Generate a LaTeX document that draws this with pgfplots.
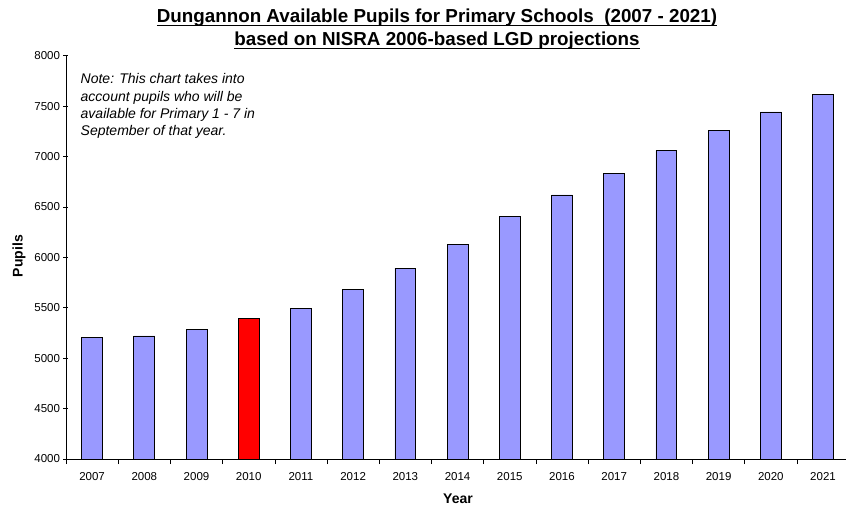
\documentclass[border=0pt]{standalone}
\usepackage{fontspec}
\setmainfont{Liberation Sans}
\usepackage{pgfplots}
\pgfplotsset{compat=1.18}
\definecolor{barblue}{HTML}{9999FF}
\definecolor{barred}{HTML}{FF0000}
% underline that sits just below the baseline, like the spreadsheet title
\newcommand\ul[1]{\setbox0\hbox{#1}\rlap{\rule[-3.6pt]{\wd0}{1.6pt}}\box0}

\begin{document}
\begin{tikzpicture}
\begin{axis}[
    name=ax,
    scale only axis,
    width=780pt,
    height=403.3pt,
    xmin=-0.5, xmax=14.44,
    ymin=4000, ymax=8000,
    ytick={4000,4500,...,8000},
    xtick={-0.5,0.5,...,13.5},
    xticklabels={2007,2008,2009,2010,2011,2012,2013,2014,2015,2016,2017,2018,2019,2020,2021},
    xticklabel style={xshift=26.1pt, yshift=-5pt},
    ticklabel style={font=\fontsize{11.5}{13}\selectfont},
    /pgf/number format/assume math mode=true,
    /pgf/number format/1000 sep={},
    tick align=outside,
    major tick length=5pt,
    tick style={black, line width=0.6pt},
    axis lines=left,
    axis line style={-, line width=0.8pt},
    ybar,
    bar width=0.4,
    clip=false,
]
\addplot[fill=barblue, draw=black, line width=0.8pt, bar shift=0pt]
    coordinates {
        (0,5203) (1,5220) (2,5287) (4,5491) (5,5683) (6,5892) (7,6130)
        (8,6404) (9,6619) (10,6830) (11,7062) (12,7261) (13,7442) (14,7618)
    };
\addplot[fill=barred, draw=black, line width=0.8pt, bar shift=0pt]
    coordinates {(3,5392)};
\end{axis}
% image origin (top left)
\coordinate (O) at ([xshift=-66pt, yshift=55.7pt]ax.north west);
\pgfresetboundingbox
\path[use as bounding box] (O) rectangle ([xshift=846pt, yshift=-507pt]O);
\node[font=\fontsize{18.8}{22}\selectfont\bfseries, anchor=base, inner sep=0pt]
    at ([xshift=437pt, yshift=-22.7pt]O)
    {\ul{Dungannon Available Pupils for Primary Schools\ \ (2007 - 2021)}};
\node[font=\fontsize{18.8}{22}\selectfont\bfseries, anchor=base, inner sep=0pt]
    at ([xshift=437pt, yshift=-45.7pt]O)
    {\ul{based on NISRA 2006-based LGD projections}};
% base anchor of a multi-line node is the last line's baseline
\node[align=left, font=\fontsize{14}{17.2}\selectfont\itshape, anchor=base west, inner sep=0pt]
    at ([xshift=80.5pt, yshift=-135.6pt]O)
    {Note: This chart takes into\\account pupils who will be\\available for Primary 1 - 7 in\\September of that year.};
\node[rotate=90, font=\fontsize{14}{16}\selectfont\bfseries]
    at ([xshift=19pt, yshift=-256pt]O) {Pupils};
\node[font=\fontsize{14}{16}\selectfont\bfseries, anchor=base]
    at ([xshift=458pt, yshift=-503pt]O) {Year};
\end{tikzpicture}
\end{document}
